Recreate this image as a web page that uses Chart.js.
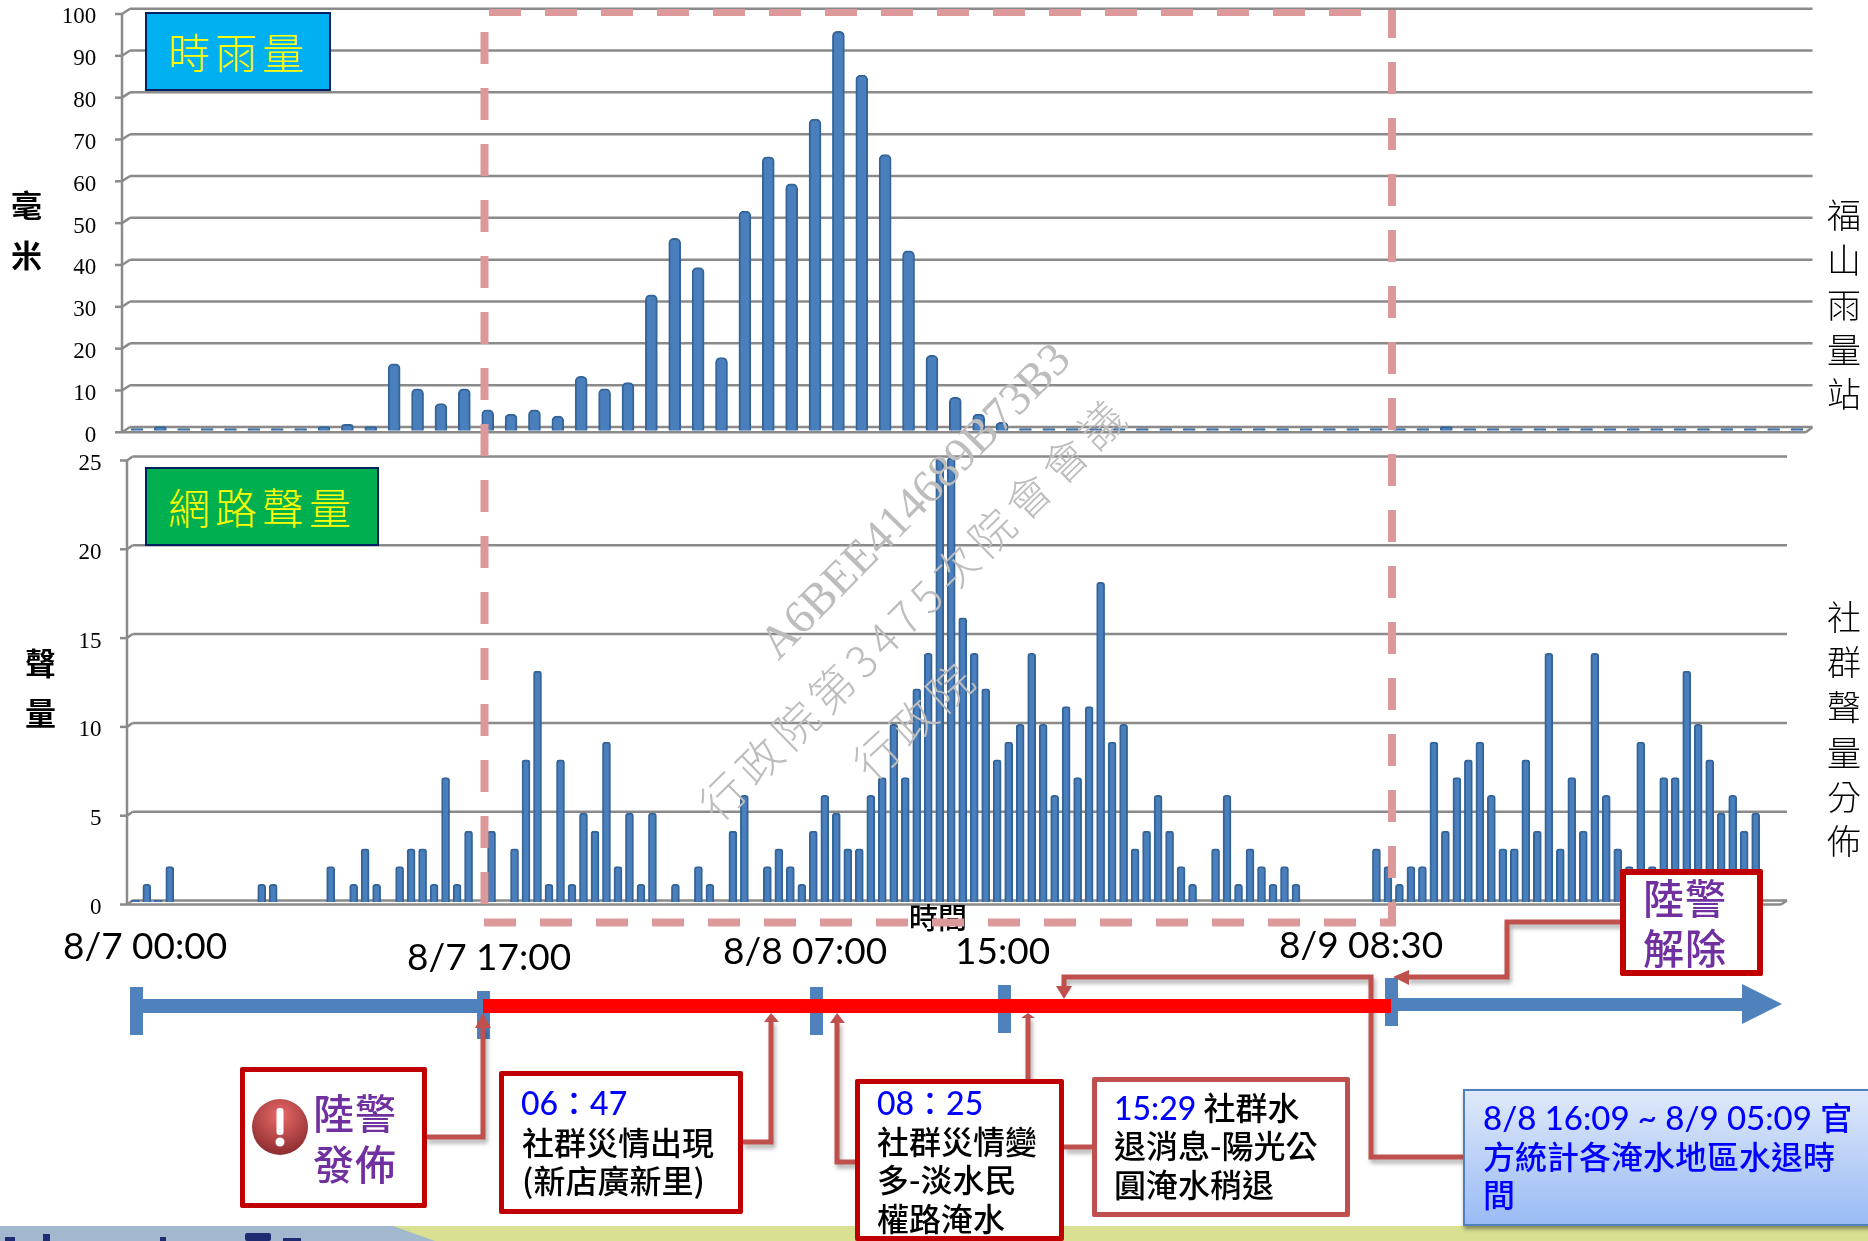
<!DOCTYPE html>
<html lang="zh-Hant">
<head>
<meta charset="utf-8">
<title>時雨量與網路聲量</title>
<script src="https://cdn.jsdelivr.net/npm/chart.js@4/dist/chart.umd.min.js"></script>
<style>
  html, body { margin: 0; padding: 0; background: #fff; }
  #page { position: relative; width: 1868px; height: 1241px; overflow: hidden; background: #fff;
          font-family: "Noto Sans CJK TC", "Noto Sans", sans-serif; color: #000; }
  #page canvas, #page svg { position: absolute; left: 0; top: 0; }
  .t { position: absolute; white-space: nowrap; line-height: 1; }
  .date { font-family: Lato, "Noto Sans CJK TC", sans-serif; font-size: 37px; }
  .side { font-size: 34px; font-weight: 300; }
  .axis { font-size: 31px; font-weight: 700; }
  .tag { position: absolute; box-sizing: border-box; border: 2px solid #002060; }
  .tag .t { color: #ff0; font-size: 42px; font-weight: 300; letter-spacing: 5px; }
  .box { position: absolute; box-sizing: border-box; background: #fff; border: 5px solid #c00000; border-radius: 2px; }
  .note { font-size: 32px; font-weight: 500; }
  .num { font-family: Lato, "Noto Sans CJK TC", sans-serif; color: #00f; }
  .warn { font-size: 41px; font-weight: 500; color: #7030a0; letter-spacing: 1px; }
  .mark { position: absolute; color: #bdbdbd; transform-origin: 0 100%; white-space: nowrap; line-height: 1; }
</style>
</head>
<body>
<div id="page">
  <canvas id="rainChart" width="1868" height="445"></canvas>
  <canvas id="voiceChart" width="1868" height="500" style="top:440px"></canvas>

  <div class="tag" style="left:145px;top:12px;width:186px;height:79px;background:#00b0f0"><div class="t" style="left:21px;top:16px">時雨量</div></div>
  <div class="tag" style="left:145px;top:467px;width:234px;height:79px;background:#00b050"><div class="t" style="left:21px;top:16px">網路聲量</div></div>

  <div class="t axis" style="left:11px;top:188px">毫</div>
  <div class="t axis" style="left:11px;top:238px">米</div>
  <div class="t axis" style="left:25px;top:646px">聲</div>
  <div class="t axis" style="left:25px;top:696px">量</div>

  <div class="t side" style="left:1827px;top:197px">福</div>
  <div class="t side" style="left:1827px;top:242px">山</div>
  <div class="t side" style="left:1827px;top:287px">雨</div>
  <div class="t side" style="left:1827px;top:332px">量</div>
  <div class="t side" style="left:1827px;top:376px">站</div>
  <div class="t side" style="left:1827px;top:599px">社</div>
  <div class="t side" style="left:1827px;top:644px">群</div>
  <div class="t side" style="left:1827px;top:689px">聲</div>
  <div class="t side" style="left:1827px;top:735px">量</div>
  <div class="t side" style="left:1827px;top:779px">分</div>
  <div class="t side" style="left:1827px;top:823px">佈</div>

  <div class="t" style="left:909px;top:902px;font-size:29px;font-weight:500">時間</div>

  <div class="t date" style="left:63px;top:926px">8/7 00:00</div>
  <div class="t date" style="left:407px;top:937px">8/7 17:00</div>
  <div class="t date" style="left:723px;top:931px">8/8 07:00</div>
  <div class="t date" style="left:955px;top:931px">15:00</div>
  <div class="t date" style="left:1279px;top:925px">8/9 08:30</div>

  <svg width="1868" height="1241" viewBox="0 0 1868 1241">
    <defs>
      <radialGradient id="alertFill" cx="50%" cy="30%" r="75%">
        <stop offset="0" stop-color="#ea6a6a"/><stop offset="1" stop-color="#86282a"/>
      </radialGradient>
    </defs>
    <!-- dashed window 8/7 17:00 ~ 8/9 08:30 -->
    <g fill="none" stroke="#dd9999">
      <path d="M484.5 32V904" stroke-width="8" stroke-dasharray="32 24"/>
      <path d="M489 12.5H1361" stroke-width="7" stroke-dasharray="32 24"/>
      <path d="M1392 10V926" stroke-width="8" stroke-dasharray="32 24" stroke-dashoffset="4"/>
      <path d="M484 922.5H1396" stroke-width="8" stroke-dasharray="32 24"/>
    </g>
    <!-- footer band -->
    <rect x="0" y="1226" width="1868" height="15" fill="#d9e091"/>
    <path d="M0 1226H393L435 1241H0Z" fill="#a2b8cf"/>
    <g fill="#1e2d72">
      <rect x="5" y="1237" width="10" height="4"/><rect x="43" y="1234" width="7" height="7"/>
      <rect x="160" y="1237" width="6" height="4"/><rect x="245" y="1233" width="26" height="8" rx="2"/>
      <rect x="283" y="1238" width="18" height="3"/>
    </g>
    <!-- timeline -->
    <g fill="#4f81bd">
      <rect x="143" y="999" width="340" height="14"/>
      <rect x="130" y="987" width="13" height="48"/>
      <rect x="477" y="991" width="13" height="48"/>
      <rect x="810" y="987" width="13" height="48"/>
      <rect x="998" y="985" width="13" height="48"/>
      <rect x="1385" y="978" width="13" height="48"/>
      <rect x="1398" y="998" width="344" height="13"/>
      <path d="M1742 984L1782 1004L1742 1024Z"/>
    </g>
    <!-- connectors -->
    <g fill="none" stroke="#c0504d" stroke-width="5" style="filter:drop-shadow(2px 4px 2px rgba(0,0,0,.3))">
      <path d="M426 1137H483V1026"/>
      <path d="M742 1142H771V1020"/>
      <path d="M855 1162H837V1021"/>
      <path d="M1028 1080V1016"/>
      <path d="M1064 1147H1092"/>
      <path d="M1463 1157H1371V977H1064V988"/>
      <path d="M1622 922H1507V977H1407"/>
    </g>
    <g fill="#c0504d">
      <path d="M483 1013L475 1028H491Z"/>
      <path d="M771 1013L764 1022H779Z"/>
      <path d="M837 1013L830 1023H845Z"/>
      <path d="M1028 1013L1021 1018H1035Z"/>
      <path d="M1064 999L1056 986H1072Z"/>
      <path d="M1393 977L1409 970V985Z"/>
    </g>
    <rect x="483" y="999" width="908" height="14" fill="#f00"/>
  </svg>

  <div class="box" style="left:240px;top:1067px;width:187px;height:141px">
    <svg width="70" height="70" style="left:2px;top:18px">
      <ellipse cx="33" cy="37" rx="28" ry="28" fill="url(#alertFill)"/>
      <rect x="29.500" y="18" width="7" height="27" rx="3" fill="#fff"/>
      <circle cx="33" cy="52" r="4.500" fill="#fff"/>
    </svg>
  </div>
  <div class="t warn" style="left:313px;top:1091px">陸警</div>
  <div class="t warn" style="left:313px;top:1142px">發佈</div>

  <div class="box" style="left:499px;top:1071px;width:244px;height:143px"></div>
  <div class="t note num" style="left:521px;top:1087px">06：47</div>
  <div class="t note" style="left:522px;top:1125px">社群災情出現</div>
  <div class="t note" style="left:522px;top:1163px">(新店廣新里)</div>

  <div class="box" style="left:855px;top:1079px;width:209px;height:162px"></div>
  <div class="t note num" style="left:877px;top:1087px">08：25</div>
  <div class="t note" style="left:877px;top:1124px">社群災情變</div>
  <div class="t note" style="left:877px;top:1162px">多-淡水民</div>
  <div class="t note" style="left:877px;top:1201px">權路淹水</div>

  <div class="box" style="left:1092px;top:1077px;width:258px;height:140px;border-color:#c0504d"></div>
  <div class="t note" style="left:1114px;top:1090px"><span class="num">15:29</span> 社群水</div>
  <div class="t note" style="left:1114px;top:1128px">退消息-陽光公</div>
  <div class="t note" style="left:1114px;top:1167px">圓淹水稍退</div>

  <div class="box" style="left:1463px;top:1089px;width:420px;height:137px;border:2px solid #4f81bd;border-radius:0;background:linear-gradient(#dfe9fa,#99bbf5);box-shadow:1px 3px 4px rgba(0,0,0,.4)"></div>
  <div class="t note num" style="left:1483px;top:1101px;font-size:33px">8/8 16:09 ~ 8/9 05:09 <span style="font-size:32px">官</span></div>
  <div class="t note" style="left:1483px;top:1139px;color:#00f">方統計各淹水地區水退時</div>
  <div class="t note" style="left:1483px;top:1177px;color:#00f">間</div>

  <div class="box" style="left:1620px;top:869px;width:143px;height:107px;border-width:6px"></div>
  <div class="t warn" style="left:1643px;top:876px">陸警</div>
  <div class="t warn" style="left:1643px;top:926px">解除</div>

  <!-- watermark -->
  <div class="mark" style="left:786px;top:615px;font:47px 'Liberation Serif',serif;transform:rotate(-45.500deg)">A6BEE414689B73B3</div>
  <div class="mark" style="left:721px;top:782px;font-size:44px;font-weight:300;letter-spacing:7px;transform:rotate(-44.500deg)">行政院第3475次院會會議</div>
  <div class="mark" style="left:874px;top:741px;font-size:44px;font-weight:300;letter-spacing:6px;transform:rotate(-43deg)">行政院</div>
</div>

<script>
'use strict';

// 福山雨量站 時雨量 (mm), one value per hour from 8/7 00:00
const rainMm = [
  0.5, 1, 0.5, 0.5, 0.5, 0.5, 0.5, 0.5, 1, 1.5, 1, 16,
  10, 6.5, 10, 5, 4, 5, 3.5, 13, 10, 11.5, 32.5, 46,
  39, 17.5, 52.5, 65.5, 59, 74.5, 95.5, 85, 66, 43, 18, 8,
  4, 2, 0.5, 0.5, 0.5, 0.5, 0.5, 0.5, 0.5, 0.5, 0.5, 0.5,
  0.5, 0.5, 0.5, 0.5, 0.5, 0.5, 0.5, 0.5, 1, 0.5, 0.5, 0.5,
  0.5, 0.5, 0.5, 0.5, 0.5, 0.5, 0.5, 0.5, 0.5, 0.5, 0.5, 0.5
];
// 社群聲量, one value per half hour from 8/7 00:00
const voiceCount = [
  0.1, 1, 0.1, 2, 0, 0, 0, 0, 0, 0, 0, 1, 1, 0, 0, 0, 0, 2, 0, 1, 3, 1, 0, 2,
  3, 3, 1, 7, 1, 4, 0, 4, 0, 3, 8, 13, 1, 8, 1, 5, 4, 9, 2, 5, 1, 5, 0, 1,
  0, 2, 1, 0, 4, 6, 0, 2, 3, 2, 1, 4, 6, 5, 3, 3, 6, 7, 10, 7, 12, 14, 25, 25,
  16, 14, 12, 8, 9, 10, 14, 10, 6, 11, 7, 11, 18, 9, 10, 3, 4, 6, 4, 2, 1, 0, 3, 6,
  1, 3, 2, 1, 2, 1, 0, 0, 0, 0, 0, 0, 3, 2, 1, 2, 2, 9, 4, 7, 8, 9, 6, 3,
  3, 8, 4, 14, 3, 7, 4, 14, 6, 3, 2, 9, 2, 7, 7, 13, 10, 8, 5, 6, 4, 5, 0, 0
];
const rainHours = rainMm.map((_, i) => i);
const voiceSlots = voiceCount.map((_, i) => i / 2);
const rainTicks = [0, 10, 20, 30, 40, 50, 60, 70, 80, 90, 100];
const voiceTicks = [0, 5, 10, 15, 20, 25];

const GRID = '#8a8a8a';
const BAR = '#4a7fbd';
const BAR_EDGE = '#356498';

// excel-style 3d walls: back grid lines plus the short diagonals to the front axis
const walls = {
  id: 'walls',
  beforeDatasetsDraw(chart, args, o) {
    const { ctx, scales: { y } } = chart;
    ctx.save();
    ctx.strokeStyle = GRID;
    ctx.lineWidth = 2.5;
    const line = (x1, y1, x2, y2) => { ctx.beginPath(); ctx.moveTo(x1, y1); ctx.lineTo(x2, y2); ctx.stroke(); };
    o.ticks.forEach(v => {
      const py = y.getPixelForValue(v);
      line(o.backX, py + o.backDy, o.backRight, py + o.backDy);
      line(o.frontX, py + o.frontDy, o.backX, py + o.backDy);
      line(o.frontX - 7, py + o.frontDy, o.frontX, py + o.frontDy);
    });
    const top = y.getPixelForValue(o.ticks[o.ticks.length - 1]);
    const zero = y.getPixelForValue(0);
    line(o.frontX, top + o.frontDy, o.frontX, zero + o.frontDy);
    line(o.frontX, zero + o.frontDy, o.frontRight, zero + o.frontDy);
    line(o.frontRight, zero + o.frontDy, o.backRight, zero + o.backDy);
    ctx.restore();
  }
};

function barChart(id, labels, values, ticks, opt) {
  return new Chart(document.getElementById(id), {
    type: 'bar',
    data: { labels, datasets: [{
      data: values, backgroundColor: BAR, borderColor: BAR_EDGE, borderWidth: 2,
      borderRadius: { topLeft: opt.radius, topRight: opt.radius }, borderSkipped: 'bottom',
      barThickness: opt.barWidth
    }] },
    plugins: [walls],
    options: {
      responsive: false, animation: false, devicePixelRatio: 1,
      layout: { padding: opt.padding },
      plugins: { legend: { display: false }, tooltip: { enabled: false }, walls: opt.walls },
      scales: {
        x: { display: false, grid: { display: false } },
        y: {
          min: 0, max: ticks[ticks.length - 1],
          // tick padding pushes the labels left; do not let it shrink the plot height
          afterFit: s => { s.width = opt.axisWidth; s.paddingTop = 0; s.paddingBottom = 0; },
          afterBuildTicks: s => { s.ticks = ticks.map(value => ({ value })); },
          border: { display: false },
          grid: { display: false, drawTicks: false },
          ticks: { color: '#000', padding: opt.tickPad, labelOffset: opt.labelOffset,
                   font: { family: "'Liberation Serif', serif", size: 23 } }
        }
      }
    }
  });
}

barChart('rainChart', rainHours, rainMm, rainTicks, {
  axisWidth: 125.3, tickPad: 29, labelOffset: 5, barWidth: 12, radius: 5,
  padding: { left: 0, right: 1868 - 1808.7, top: 12.4, bottom: 445 - 430.7 },
  walls: { ticks: rainTicks, frontX: 122, backX: 130, frontRight: 1806, backRight: 1812.5, backDy: -3.7, frontDy: 1.6 }
});

barChart('voiceChart', voiceSlots, voiceCount, voiceTicks, {
  axisWidth: 129.55, tickPad: 28, labelOffset: 6, barWidth: 8, radius: 3,
  padding: { left: 0, right: 1868 - 1784.4, top: 18, bottom: 500 - 462 },
  walls: { ticks: voiceTicks, frontX: 127, backX: 132.6, frontRight: 1781, backRight: 1787, backDy: -1.5, frontDy: 2.5 }
});
</script>
</body>
</html>
